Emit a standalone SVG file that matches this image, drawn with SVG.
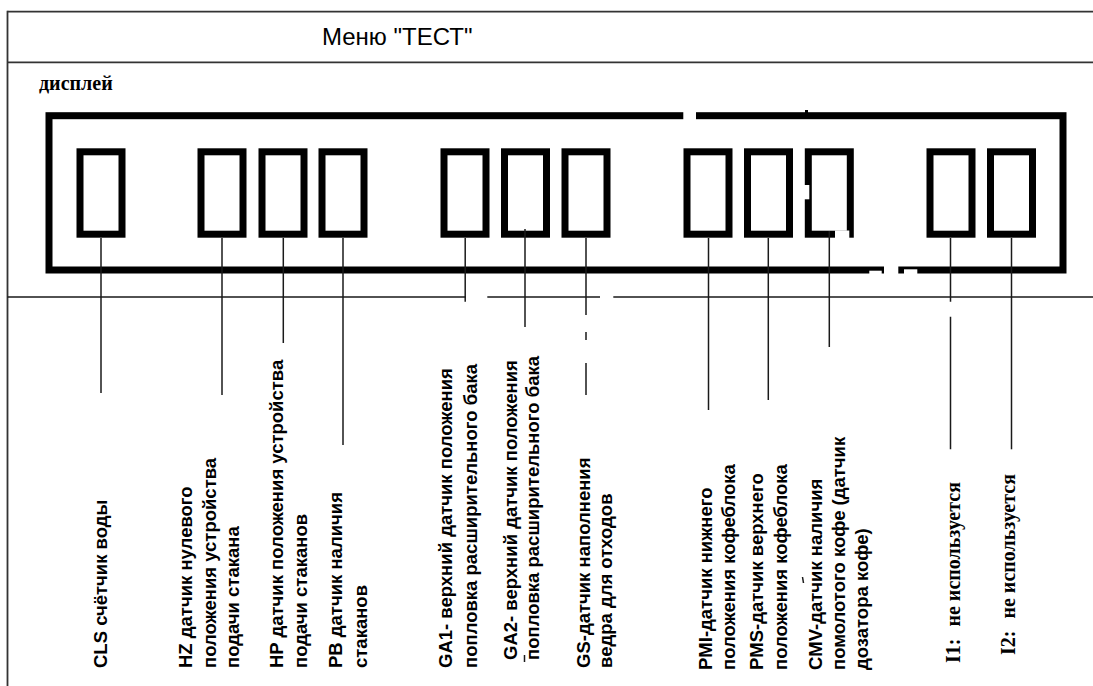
<svg xmlns="http://www.w3.org/2000/svg" width="1093" height="686" viewBox="0 0 1093 686">
<style>
.frame{stroke:#333;stroke-width:1.8;fill:none}
.lead{stroke:#1a1a1a;stroke-width:1.5;fill:none}
.box{stroke:#000;stroke-width:7;fill:none}
.cell{stroke:#000;stroke-width:7;fill:none}
.gap{fill:#fff}
.lbl{font-family:"Liberation Sans",Arial,sans-serif;font-weight:bold;font-size:18.5px;fill:#000}
.ser{font-family:"Liberation Serif","Times New Roman",serif;font-weight:bold;font-size:20px;fill:#000}
.title{font-family:"Liberation Sans",Arial,sans-serif;font-size:24px;fill:#000}
</style>
<rect width="1093" height="686" fill="#fff"/>
<g id="frame">
<line class="frame" x1="7.5" y1="11.7" x2="1093" y2="11.7"/>
<line class="frame" x1="7.5" y1="62.3" x2="1093" y2="62.3"/>
<line class="frame" x1="7.5" y1="10.8" x2="7.5" y2="686"/>
<text class="title" x="322" y="45">Меню "ТЕСТ"</text>
<text class="ser" x="39" y="90">дисплей</text>
</g>
<g id="display">
<rect class="box" x="49" y="115.7" width="1014" height="154.3"/>
<rect class="gap" x="683.3" y="110" width="12.7" height="11"/>
<rect x="805" y="110" width="3" height="3" fill="#000"/>
<rect class="gap" x="869.3" y="270.7" width="12.4" height="5"/>
<rect class="gap" x="884" y="264" width="14.3" height="12"/>
<rect class="gap" x="904" y="269.3" width="13.3" height="6"/>
</g>
<g id="cell-cls"><rect class="cell" x="80" y="151.8" width="42" height="82.4"/></g>
<g id="cell-hz"><rect class="cell" x="201" y="151.8" width="42" height="82.4"/></g>
<g id="cell-hp"><rect class="cell" x="262" y="151.8" width="42" height="82.4"/></g>
<g id="cell-pb"><rect class="cell" x="322" y="151.8" width="42" height="82.4"/></g>
<g id="cell-ga1"><rect class="cell" x="444" y="151.8" width="42" height="82.4"/></g>
<g id="cell-ga2"><rect class="cell" x="504.5" y="151.8" width="42" height="82.4"/></g>
<g id="cell-gs"><rect class="cell" x="565" y="151.8" width="42" height="82.4"/></g>
<g id="cell-pmi"><rect class="cell" x="687" y="151.8" width="42" height="82.4"/></g>
<g id="cell-pms"><rect class="cell" x="747.5" y="151.8" width="42" height="82.4"/></g>
<g id="cell-cmv"><rect class="cell" x="808.3" y="151.8" width="42" height="82.4"/>
<rect class="gap" x="803" y="185" width="6.3" height="14.3"/>
<rect class="gap" x="835" y="230.5" width="14.3" height="9"/>
</g>
<g id="cell-i1"><rect class="cell" x="930" y="151.8" width="42" height="82.4"/></g>
<g id="cell-i2"><rect class="cell" x="990.5" y="151.8" width="42" height="82.4"/></g>
<g id="connectors">
<path class="lead" d="M7.5 297H466M487.3 297H600M613.3 297H1093"/>
<line class="lead" x1="101" y1="238" x2="101" y2="393"/>
<line class="lead" x1="222" y1="238" x2="222" y2="395"/>
<line class="lead" x1="283.3" y1="238" x2="283.3" y2="343"/>
<line class="lead" x1="343" y1="238" x2="343" y2="445"/>
<line class="lead" x1="465.2" y1="238" x2="465.2" y2="301.7"/>
<line class="lead" x1="525" y1="229" x2="525" y2="327"/>
<path class="lead" d="M586 238V315M586 332V340M586 363V395"/>
<line class="lead" x1="708.5" y1="238" x2="708.5" y2="410"/>
<line class="lead" x1="768.3" y1="238" x2="768.3" y2="400"/>
<line class="lead" x1="829.3" y1="231" x2="829.3" y2="347"/>
<path class="lead" d="M950.5 238V301.7M950.5 316.7V449.3"/>
<line class="lead" x1="1011.5" y1="238" x2="1011.5" y2="449.3"/>
<line class="lead" x1="524.5" y1="655" x2="524.5" y2="662"/>
<line class="lead" x1="802.5" y1="577" x2="803.5" y2="583"/>
</g>
<g id="label-cls"><text class="lbl" transform="translate(106.5 668) rotate(-90)">CLS счётчик воды</text></g>
<g id="label-hz">
<text class="lbl" transform="translate(191.5 668) rotate(-90)">HZ датчик нулевого</text>
<text class="lbl" transform="translate(215.5 668) rotate(-90)">положения устройства</text>
<text class="lbl" transform="translate(238.5 668) rotate(-90)">подачи стакана</text>
</g>
<g id="label-hp">
<text class="lbl" transform="translate(282.5 668) rotate(-90)">HP датчик положения устройства</text>
<text class="lbl" transform="translate(306.5 668) rotate(-90)">подачи стаканов</text>
</g>
<g id="label-pb">
<text class="lbl" transform="translate(341.5 668) rotate(-90)">PB датчик наличия</text>
<text class="lbl" transform="translate(366.5 668) rotate(-90)">стаканов</text>
</g>
<g id="label-ga1">
<text class="lbl" transform="translate(451.5 668) rotate(-90)">GA1- верхний датчик положения</text>
<text class="lbl" transform="translate(476.5 668) rotate(-90)">попловка расширительного бака</text>
</g>
<g id="label-ga2">
<text class="lbl" transform="translate(516.5 660) rotate(-90)">GA2- верхний датчик положения</text>
<text class="lbl" transform="translate(538.5 660) rotate(-90)">попловка расширительного бака</text>
</g>
<g id="label-gs">
<text class="lbl" transform="translate(590 668) rotate(-90)">GS-датчик наполнения</text>
<text class="lbl" transform="translate(611.5 668) rotate(-90)">ведра для отходов</text>
</g>
<g id="label-pmi">
<text class="lbl" transform="translate(711.5 670) rotate(-90)">PMI-датчик нижнего</text>
<text class="lbl" transform="translate(735 670) rotate(-90)">положения кофеблока</text>
</g>
<g id="label-pms">
<text class="lbl" transform="translate(763.3 670) rotate(-90)">PMS-датчик верхнего</text>
<text class="lbl" transform="translate(786.7 670) rotate(-90)">положения кофеблока</text>
</g>
<g id="label-cmv">
<text class="lbl" transform="translate(821.7 670) rotate(-90)">CMV-датчик наличия</text>
<text class="lbl" transform="translate(845 670) rotate(-90)">помолотого кофе (датчик</text>
<text class="lbl" transform="translate(868.3 670) rotate(-90)">дозатора кофе)</text>
</g>
<g id="label-i1"><text class="ser" transform="translate(960 663) rotate(-90)">I1:<tspan dx="12">не используется</tspan></text></g>
<g id="label-i2"><text class="ser" transform="translate(1015 655) rotate(-90)">I2:<tspan dx="12">не используется</tspan></text></g>
</svg>
